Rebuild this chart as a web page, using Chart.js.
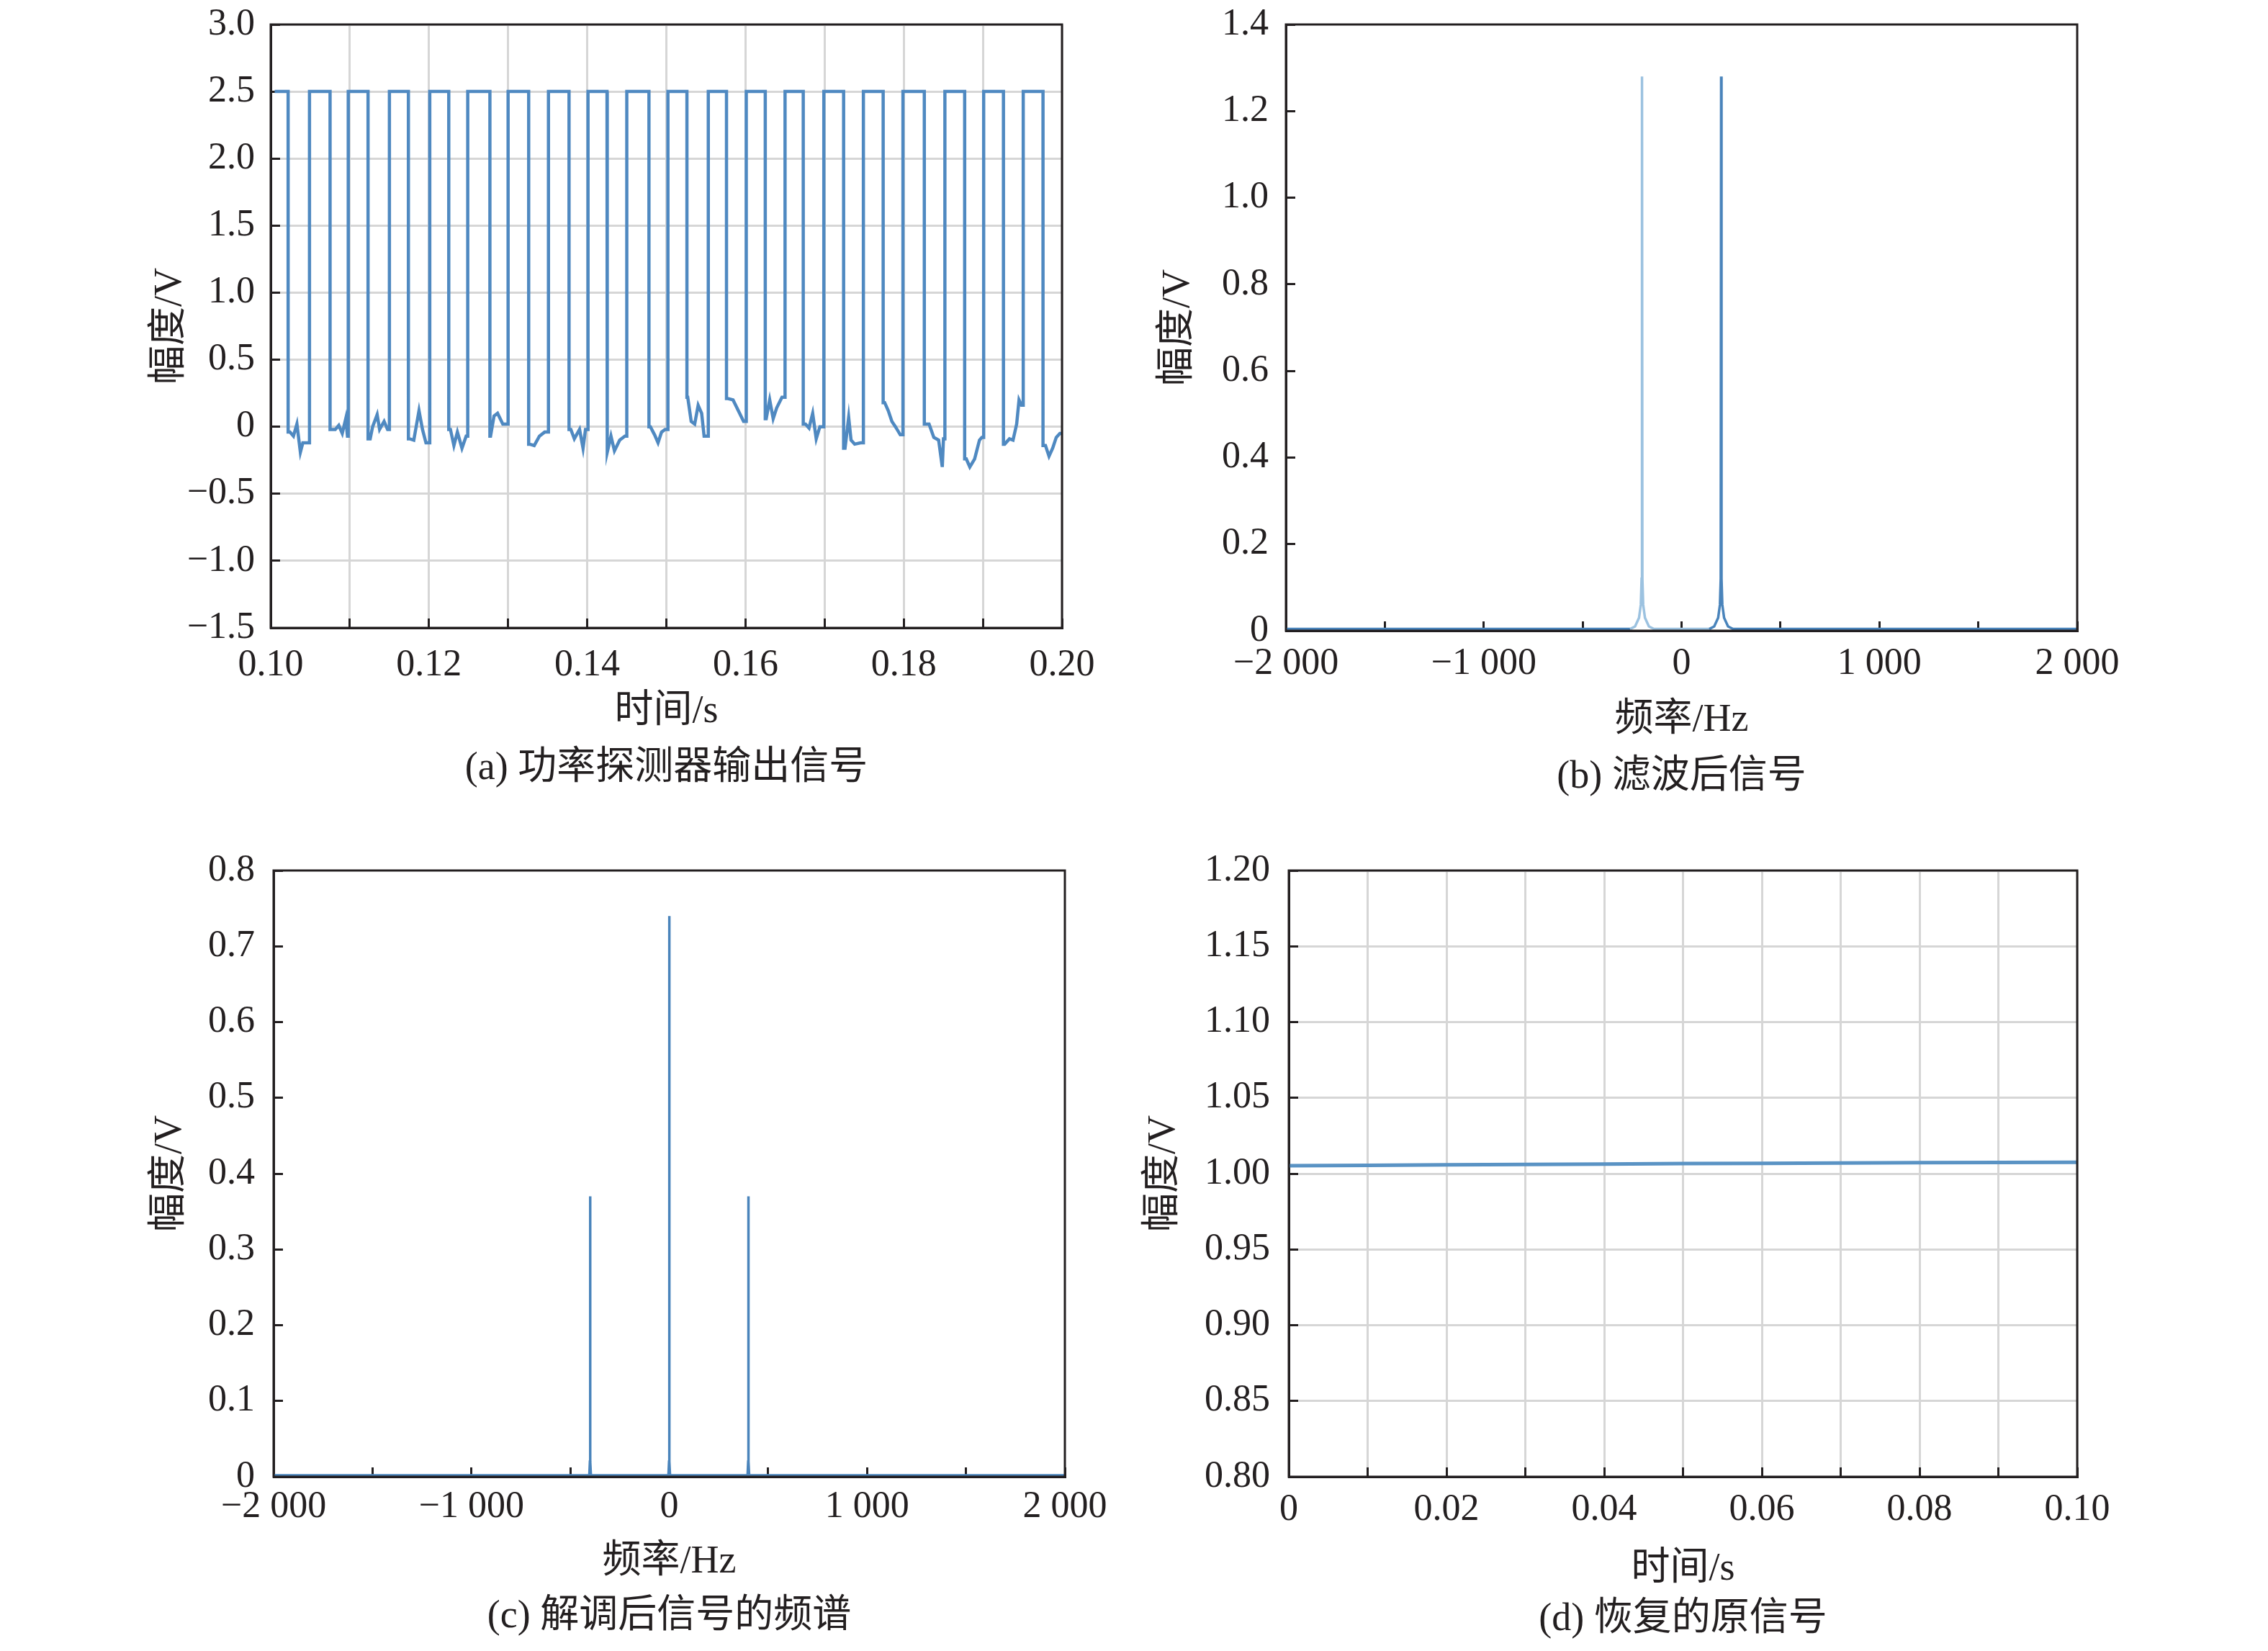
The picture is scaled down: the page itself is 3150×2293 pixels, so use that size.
<!DOCTYPE html>
<html><head><meta charset="utf-8">
<script src="https://cdn.jsdelivr.net/npm/chart.js@4.4.1/dist/chart.umd.min.js"></script>
<style>
html,body{margin:0;padding:0;background:#fff;width:3150px;height:2293px;overflow:hidden}
canvas{position:absolute}
</style>
</head><body>
<canvas id="ca"></canvas><canvas id="cb"></canvas><canvas id="cc"></canvas><canvas id="cd"></canvas>
<script>
// ---------- (a) power detector output ----------
const startA = 0.1005;
const highA = 2.5;
const fallA = [0.1022,0.1075,0.1123,0.1174,0.1225,0.1277,0.1326,0.1377,0.1425,0.1478,0.1526,0.1576,0.1625,0.1673,0.1724,0.1774,0.1826,0.1877,0.1926,0.1976];
const riseA = [0.1049,0.1098,0.1150,0.1201,0.1249,0.1300,0.1351,0.1401,0.1450,0.1502,0.1553,0.1601,0.1650,0.1699,0.1749,0.1799,0.1852,0.1901,0.1951];
const lowTA = [
 [.10243,.10287,.10331,.10375,.10406,.10463],
 [.10772,.10816,.1086,.10904,.10948,.1097],
 [.11257,.11288,.11345,.11376,.11433,.11477],
 [.11755,.11808,.11874,.11918,.11962],
 [.12271,.12315,.12359,.12417,.1247],
 [.12778,.12822,.12867,.12933,.12977],
 [.13272,.1333,.13396,.13462],
 [.13793,.13837,.13903,.13947,.13978],
 [.14256,.143,.14344,.1441,.14476],
 [.14798,.14851,.14895,.14939,.14983],
 [.1527,.15314,.15358,.15402,.15446,.15477],
 [.15777,.15843,.15909,.15976],
 [.16262,.16306,.1635,.16394,.16461],
 [.16758,.16803,.16849,.16894,.1694,.1697],
 [.17258,.17304,.17334,.1738,.17455],
 [.17759,.17804,.1785,.17895,.17956],
 [.18274,.1832,.1838,.18441,.18487,.18502],
 [.1879,.18835,.18896,.18957,.18987],
 [.19275,.19336,.19381,.19427,.19457,.19488],
 [.19791,.19836,.19882,.19927,.19973,.2]
];
const lowVA = [
 [-.04,-.07,.02,-.19,-.12,-.12],
 [-.02,-.02,.01,-.05,.06,-.07],
 [-.09,0,.09,-.02,.04,-.02],
 [-.09,-.10,.12,-.02,-.12],
 [-.02,-.14,-.04,-.16,-.07],
 [-.07,.08,.10,.02,.02],
 [-.13,-.14,-.07,-.04],
 [-.02,-.09,-.02,-.16,-.02],
 [-.19,-.07,-.18,-.10,-.07],
 [0,-.06,-.12,-.04,-.02],
 [.22,.04,.02,.16,.10,-.07],
 [.21,.20,.12,.04],
 [.06,.20,.06,.14,.22],
 [.02,-.01,.10,-.09,0,0],
 [-.16,.07,-.10,-.13,-.12],
 [.18,.12,.04,0,-.06],
 [.02,.02,-.08,-.10,-.30,-.09],
 [-.24,-.30,-.24,-.10,-.08],
 [-.13,-.09,-.10,.02,.20,.16],
 [-.14,-.22,-.16,-.08,-.05,-.05]
];
const xTicksA = [0.10,0.11,0.12,0.13,0.14,0.15,0.16,0.17,0.18,0.19,0.20];
const xLabelsA = ['0.10','','0.12','','0.14','','0.16','','0.18','','0.20'];
const yTicksA = [-1.5,-1.0,-0.5,0,0.5,1.0,1.5,2.0,2.5,3.0];
const yLabelsA = ['\u22121.5','\u22121.0','\u22120.5','0','0.5','1.0','1.5','2.0','2.5','3.0'];

// ---------- (b) filtered signal spectrum ----------
const freqB = [-2000,-260,-235,-215,-206,-202,-200,-198,-194,-185,-165,-140,140,165,185,194,198,200,202,206,215,235,260,2000];
const ampB  = [0.004,0.004,0.01,0.03,0.06,0.12,1.28,0.12,0.06,0.03,0.01,0.004,0.004,0.01,0.03,0.06,0.12,1.28,0.12,0.06,0.03,0.01,0.004,0.004];
const xTicksB = [-2000,-1500,-1000,-500,0,500,1000,1500,2000];
const xLabelsB = ['\u22122 000','','\u22121 000','','0','','1 000','','2 000'];
const yTicksB = [0,0.2,0.4,0.6,0.8,1.0,1.2,1.4];
const yLabelsB = ['0','0.2','0.4','0.6','0.8','1.0','1.2','1.4'];

// ---------- (c) demodulated spectrum ----------
const freqC = [-2000,-404,-401,-400,-399,-396,-4,-1,0,1,4,396,399,400,401,404,2000];
const ampC  = [0.002,0.002,0.02,0.37,0.02,0.002,0.002,0.02,0.74,0.02,0.002,0.002,0.02,0.37,0.02,0.002,0.002];
const xTicksC = [-2000,-1500,-1000,-500,0,500,1000,1500,2000];
const xLabelsC = ['\u22122 000','','\u22121 000','','0','','1 000','','2 000'];
const yTicksC = [0,0.1,0.2,0.3,0.4,0.5,0.6,0.7,0.8];
const yLabelsC = ['0','0.1','0.2','0.3','0.4','0.5','0.6','0.7','0.8'];

// ---------- (d) recovered signal ----------
const tD = [0,0.01,0.02,0.03,0.04,0.05,0.06,0.07,0.08,0.09,0.10];
const vD = [1.0052,1.0055,1.0058,1.0060,1.0063,1.0066,1.0068,1.0070,1.0072,1.0074,1.0075];
const xTicksD = [0,0.01,0.02,0.03,0.04,0.05,0.06,0.07,0.08,0.09,0.10];
const xLabelsD = ['0','','0.02','','0.04','','0.06','','0.08','','0.10'];
const yTicksD = [0.80,0.85,0.90,0.95,1.00,1.05,1.10,1.15,1.20];
const yLabelsD = ['0.80','0.85','0.90','0.95','1.00','1.05','1.10','1.15','1.20'];

const titlesY = '幅度/V';
const captions = ['(a) 功率探测器输出信号','(b) 滤波后信号','(c) 解调后信号的频谱','(d) 恢复的原信号'];
const xTitles = ['时间/s','频率/Hz','频率/Hz','时间/s'];

// ---------- build points ----------
function buildA(){
  const p=[{x:startA,y:highA}];
  for(let i=0;i<fallA.length;i++){
    p.push({x:fallA[i],y:highA});
    p.push({x:fallA[i],y:lowVA[i][0]});
    for(let j=0;j<lowTA[i].length;j++) p.push({x:lowTA[i][j],y:lowVA[i][j]});
    if(i<riseA.length){
      const last=lowVA[i][lowVA[i].length-1];
      p.push({x:riseA[i],y:last});
      p.push({x:riseA[i],y:highA});
    }
  }
  return p;
}
const zip=(xs,ys)=>xs.map((x,i)=>({x,y:ys[i]}));

const FONT='"Liberation Serif","Times New Roman","Noto Sans CJK SC",serif';
const INK='#231f20';
const TL=-13;

const framePlugin={id:'frame',afterDraw(ch){
  const a=ch.chartArea,c=ch.ctx;
  c.save();c.strokeStyle=INK;c.lineWidth=3;
  c.strokeRect(a.left,a.top,a.right-a.left,a.bottom-a.top);
  c.restore();
}};

function make(id,g,datasets,ax,ay){
  const cv=document.getElementById(id);
  const tickFS=52, tickLH=1.2;
  const xPad=g.tickY-g.B-TL-tickFS*tickLH/2;
  const yPad=g.L-TL-g.yLabR;
  const padTop=Math.ceil(tickFS*tickLH/2+yPad)+1;
  const cy=g.T-padTop;
  const tFS=54;
  const capLH=(g.capY-g.xtY)/tFS;
  const yTitleLH=1.2;
  const yTitlePad=g.yTitleX-g.cx-tFS*yTitleLH/2;
  const chH=Math.round(g.capY+capLH*tFS/2-cy);
  cv.width=g.cw;cv.height=chH;
  cv.style.left=g.cx+'px';cv.style.top=cy+'px';
  cv.style.width=g.cw+'px';cv.style.height=chH+'px';
  const hX=chH+cy-g.B;
  const gridCol=g.grid?'#d6d6d6':'rgba(0,0,0,0)';
  return new Chart(cv,{
    type:'line',
    data:{datasets},
    options:{
      responsive:false,animation:false,devicePixelRatio:1,
      layout:{padding:{left:0,top:padTop,right:g.cx+g.cw-g.R,bottom:0}},
      plugins:{legend:{display:false},tooltip:{enabled:false},title:{display:false}},
      elements:{point:{radius:0},line:{tension:0}},
      scales:{
        x:{type:'linear',min:ax.min,max:ax.max,
          afterFit(s){s.height=hX;},
          afterBuildTicks(s){s.ticks=ax.ticks.map(v=>({value:v}));},
          ticks:{autoSkip:false,maxRotation:0,minRotation:0,padding:xPad,color:INK,
            font:{family:FONT,size:tickFS,lineHeight:tickLH},
            callback:(v,i)=>ax.labels[i]},
          grid:{display:true,drawOnChartArea:!!g.grid,color:gridCol,lineWidth:3,
            tickColor:INK,tickWidth:3,tickLength:TL},
          border:{display:true,color:INK,width:3},
          title:{display:true,text:[ax.title,ax.caption],color:INK,
            font:{family:FONT,size:tFS,lineHeight:capLH},padding:{top:0,bottom:0}}
        },
        y:{type:'linear',min:ay.min,max:ay.max,
          afterFit(s){s.width=g.L-g.cx;},
          afterBuildTicks(s){s.ticks=ay.ticks.map(v=>({value:v}));},
          ticks:{autoSkip:false,padding:yPad,color:INK,
            font:{family:FONT,size:tickFS,lineHeight:tickLH},
            callback:(v,i)=>ay.labels[i]},
          grid:{display:true,drawOnChartArea:!!g.grid,color:gridCol,lineWidth:3,
            tickColor:INK,tickWidth:3,tickLength:TL},
          border:{display:true,color:INK,width:3},
          title:{display:true,text:titlesY,color:INK,
            font:{family:FONT,size:tFS,lineHeight:yTitleLH},padding:{top:yTitlePad,bottom:0}}
        }
      }
    },
    plugins:[framePlugin]
  });
}

// panel (a)
make('ca',{cx:160,cw:1405,L:376,T:34,R:1475,B:872,tickY:924,xtY:988,capY:1067,yTitleX:237,yLabR:354,grid:true},
  [{data:buildA(),borderColor:'#4f89c1',borderWidth:4.5,fill:false}],
  {min:0.1,max:0.2,ticks:xTicksA,labels:xLabelsA,title:xTitles[0],caption:captions[0]},
  {min:-1.5,max:3.0,ticks:yTicksA,labels:yLabelsA});

// panel (b)
make('cb',{cx:1570,cw:1415,L:1786,T:34,R:2885,B:876,tickY:922,xtY:1000,capY:1079,yTitleX:1637,yLabR:1762,grid:false},
  [{data:zip(freqB,ampB),borderColor:'#4a84bb',borderWidth:3.5,fill:false,
    segment:{borderColor:c=>(c.p0.parsed.x<-100&&c.p1.parsed.x>-260)?'#9cc2e0':'#4a84bb'}}],
  {min:-2000,max:2000,ticks:xTicksB,labels:xLabelsB,title:xTitles[1],caption:captions[1]},
  {min:0,max:1.4,ticks:yTicksB,labels:yLabelsB});

// panel (c)
make('cc',{cx:160,cw:1419,L:380,T:1209,R:1479,B:2051,tickY:2093,xtY:2170,capY:2246,yTitleX:237,yLabR:354,grid:false},
  [{data:zip(freqC,ampC),borderColor:'#4a84bb',borderWidth:3.5,fill:false}],
  {min:-2000,max:2000,ticks:xTicksC,labels:xLabelsC,title:xTitles[2],caption:captions[2]},
  {min:0,max:0.8,ticks:yTicksC,labels:yLabelsC});

// panel (d)
make('cd',{cx:1570,cw:1415,L:1790,T:1209,R:2885,B:2051,tickY:2097,xtY:2180,capY:2250,yTitleX:1617,yLabR:1764,grid:true},
  [{data:zip(tD,vD),borderColor:'#5a93c4',borderWidth:5,fill:false}],
  {min:0,max:0.1,ticks:xTicksD,labels:xLabelsD,title:xTitles[3],caption:captions[3]},
  {min:0.8,max:1.2,ticks:yTicksD,labels:yLabelsD});
</script>
</body></html>
